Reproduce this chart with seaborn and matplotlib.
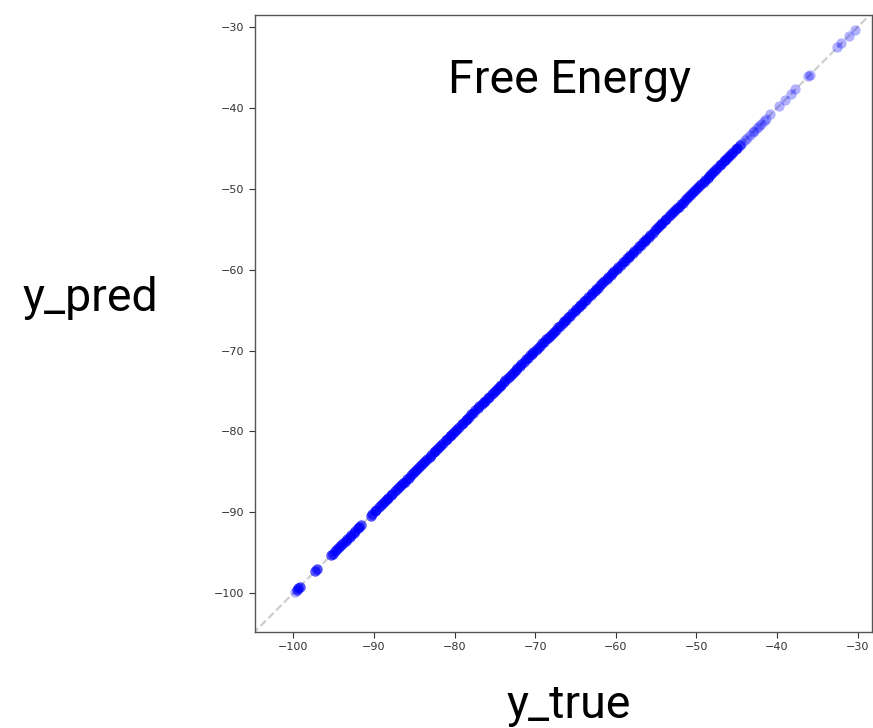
import pandas as pd
import matplotlib.pyplot as plt
import seaborn as sns

# Isolated samples (each seen once)
y_true_sparse = [
    -105.4, -99.8,
    -44.3, -44.0, -43.7, -43.3, -43.0, -42.8, -42.5, -42.2, -42.0,
    -41.6, -41.3, -40.8, -39.8, -39.0, -38.3, -37.7, -36.1, -35.9,
    -32.5, -32.0, -31.1, -30.3, -27.6,
]
y_pred_sparse = [
    -105.4, -99.8,
    -44.3, -44.0, -43.7, -43.3, -43.0, -42.8, -42.5, -42.2, -42.0,
    -41.6, -41.3, -40.8, -39.8, -39.0, -38.3, -37.7, -36.1, -35.9,
    -32.5, -32.0, -31.1, -30.3, -27.6,
]

# Dense part of the data set (each value seen several times)
y_true_dense = [
    -99.6, -99.4, -99.2, -97.3, -97.0,
    -95.3, -95.1, -94.8, -94.6, -94.3, -94.1, -93.8, -93.5,
    -93.3, -93.0, -92.8, -92.5, -92.3, -92.0, -91.8, -91.6,
    -90.4, -90.2, -89.9, -89.7, -89.4, -89.1, -88.9, -88.6,
    -88.4, -88.2, -87.9, -87.7, -87.4, -87.1, -86.9, -86.6,
    -86.4, -86.2, -85.9, -85.7, -85.4, -85.1, -84.9, -84.6,
    -84.4, -84.2, -83.9, -83.7, -83.4, -83.1, -82.9, -82.6,
    -82.4, -82.2, -81.9, -81.7, -81.4, -81.1, -80.9, -80.6,
    -80.4, -80.2, -79.9, -79.7, -79.4, -79.1, -78.9, -78.6,
    -78.4, -78.2, -77.9, -77.7, -77.4, -77.1, -76.9, -76.6,
    -76.4, -76.2, -75.9, -75.7, -75.4, -75.1, -74.9, -74.6,
    -74.4, -74.2, -73.9, -73.7, -73.4, -73.1, -72.9, -72.6,
    -72.4, -72.2, -71.9, -71.7, -71.4, -71.1, -70.9, -70.6,
    -70.4, -70.2, -69.9, -69.7, -69.4, -69.1, -68.9, -68.6,
    -68.4, -68.2, -67.9, -67.7, -67.4, -67.1, -66.9, -66.6,
    -66.4, -66.2, -65.9, -65.7, -65.4, -65.1, -64.9, -64.6,
    -64.4, -64.2, -63.9, -63.7, -63.4, -63.1, -62.9, -62.6,
    -62.4, -62.2, -61.9, -61.7, -61.4, -61.1, -60.9, -60.6,
    -60.4, -60.2, -59.9, -59.7, -59.4, -59.1, -58.9, -58.6,
    -58.4, -58.2, -57.9, -57.7, -57.4, -57.1, -56.9, -56.6,
    -56.4, -56.2, -55.9, -55.7, -55.4, -55.1, -54.9, -54.6,
    -54.4, -54.2, -53.9, -53.7, -53.4, -53.1, -52.9, -52.6,
    -52.4, -52.2, -51.9, -51.7, -51.4, -51.1, -50.9, -50.6,
    -50.4, -50.2, -49.9, -49.7, -49.4, -49.1, -48.9, -48.6,
    -48.4, -48.2, -47.9, -47.7, -47.4, -47.1, -46.9, -46.6,
    -46.4, -46.2, -45.9, -45.7, -45.4, -45.1, -44.9, -44.6,
]
y_pred_dense = [
    -99.6, -99.4, -99.2, -97.3, -97.0,
    -95.3, -95.1, -94.8, -94.6, -94.3, -94.1, -93.8, -93.5,
    -93.3, -93.0, -92.8, -92.5, -92.3, -92.0, -91.8, -91.6,
    -90.4, -90.2, -89.9, -89.7, -89.4, -89.1, -88.9, -88.6,
    -88.4, -88.2, -87.9, -87.7, -87.4, -87.1, -86.9, -86.6,
    -86.4, -86.2, -85.9, -85.7, -85.4, -85.1, -84.9, -84.6,
    -84.4, -84.2, -83.9, -83.7, -83.4, -83.1, -82.9, -82.6,
    -82.4, -82.2, -81.9, -81.7, -81.4, -81.1, -80.9, -80.6,
    -80.4, -80.2, -79.9, -79.7, -79.4, -79.1, -78.9, -78.6,
    -78.4, -78.2, -77.9, -77.7, -77.4, -77.1, -76.9, -76.6,
    -76.4, -76.2, -75.9, -75.7, -75.4, -75.1, -74.9, -74.6,
    -74.4, -74.2, -73.9, -73.7, -73.4, -73.1, -72.9, -72.6,
    -72.4, -72.2, -71.9, -71.7, -71.4, -71.1, -70.9, -70.6,
    -70.4, -70.2, -69.9, -69.7, -69.4, -69.1, -68.9, -68.6,
    -68.4, -68.2, -67.9, -67.7, -67.4, -67.1, -66.9, -66.6,
    -66.4, -66.2, -65.9, -65.7, -65.4, -65.1, -64.9, -64.6,
    -64.4, -64.2, -63.9, -63.7, -63.4, -63.1, -62.9, -62.6,
    -62.4, -62.2, -61.9, -61.7, -61.4, -61.1, -60.9, -60.6,
    -60.4, -60.2, -59.9, -59.7, -59.4, -59.1, -58.9, -58.6,
    -58.4, -58.2, -57.9, -57.7, -57.4, -57.1, -56.9, -56.6,
    -56.4, -56.2, -55.9, -55.7, -55.4, -55.1, -54.9, -54.6,
    -54.4, -54.2, -53.9, -53.7, -53.4, -53.1, -52.9, -52.6,
    -52.4, -52.2, -51.9, -51.7, -51.4, -51.1, -50.9, -50.6,
    -50.4, -50.2, -49.9, -49.7, -49.4, -49.1, -48.9, -48.6,
    -48.4, -48.2, -47.9, -47.7, -47.4, -47.1, -46.9, -46.6,
    -46.4, -46.2, -45.9, -45.7, -45.4, -45.1, -44.9, -44.6,
]
dense_repeats = 3  # samples sharing each dense value

ticks = [-100, -90, -80, -70, -60, -50, -40, -30]
diag = [-106, -27]

sparse = pd.DataFrame({'y_true': y_true_sparse, 'y_pred': y_pred_sparse})
dense = pd.DataFrame({'y_true': y_true_dense, 'y_pred': y_pred_dense})
dense = dense.loc[dense.index.repeat(dense_repeats)]
df = pd.concat([dense, sparse], ignore_index=True)

sns.set_style('ticks')
plt.rcParams['font.family'] = ['DejaVu Sans']

fig = plt.figure(figsize=(8.73, 7.28), dpi=100)
ax = fig.add_axes([0.2921, 0.1319, 0.7068, 0.8475])

# reference diagonal
ax.plot(diag, diag, color='gray', linestyle='--', linewidth=1.5, alpha=0.4, zorder=1)
sns.scatterplot(data=df, x='y_true', y='y_pred', ax=ax, color='blue',
                alpha=0.3, s=55, linewidth=0, zorder=2)

ax.set_xlim(-104.75, -28.2)
ax.set_ylim(-104.8, -28.5)
ax.set_xticks(ticks)
ax.set_yticks(ticks)
ax.tick_params(labelsize=8, colors='#333333', length=4)
for sp in ax.spines.values():
    sp.set_color('#555555')
    sp.set_linewidth(1.0)

label_font = dict(family='Roboto', fontsize=33.5, color='black')
ax.set_xlabel('y_true', **label_font)
ax.xaxis.set_label_coords(0.509, -0.118)
ax.xaxis.label.set_va('center')
ax.set_ylabel('y_pred', rotation=0, **label_font)
ax.yaxis.set_label_coords(-0.267, 0.541)
ax.yaxis.label.set_va('center')
ax.yaxis.label.set_ha('center')
ax.text(0.509, 0.895, 'Free Energy', transform=ax.transAxes,
        ha='center', va='center', **label_font)

plt.savefig('out.png', dpi=100)
